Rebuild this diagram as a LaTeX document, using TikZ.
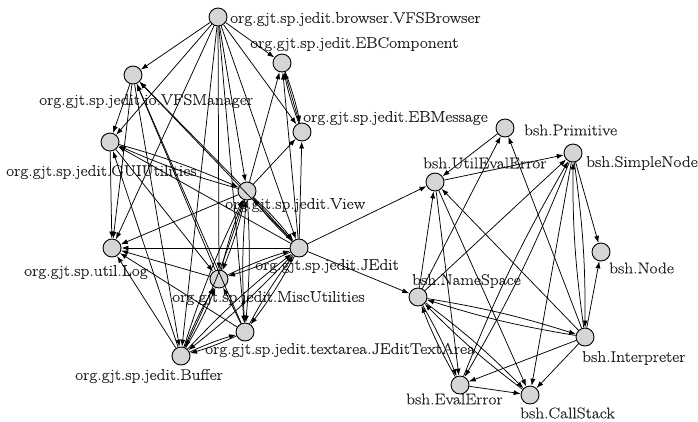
\documentclass[tikz,border=0pt]{standalone}
\usepackage{fontspec}
\newfontfamily\lblfont{Latin Modern Roman}[FakeStretch=1.12,FakeBold=0.4]
\usetikzlibrary{arrows.meta}
\begin{document}
\begin{tikzpicture}[x=1pt,y=-1pt,
  vtx/.style={circle,draw=black,line width=0.9pt,fill=gray!33,minimum size=18pt,inner sep=0pt},
  lbl/.style={anchor=west,inner sep=0pt,text=black!85,font=\lblfont\fontsize{15.5}{18}\selectfont},
  ed/.style={draw=black,line width=0.75pt,-{Latex[length=7pt,width=5pt]}},
  bl/.style={bend left=4}]
\useasboundingbox (0,0) rectangle (698,421);
% vertices
\node[vtx] (vb)   at (218,17) {};
\node[vtx] (ebc)  at (282,63) {};
\node[vtx] (vfm)  at (133,75) {};
\node[vtx] (ebm)  at (302,132) {};
\node[vtx] (gui)  at (110,142) {};
\node[vtx] (view) at (247,191) {};
\node[vtx] (jedit) at (299,248) {};
\node[vtx] (log)  at (112,248) {};
\node[vtx] (misc) at (219,279) {};
\node[vtx] (jta)  at (245,332) {};
\node[vtx] (buf)  at (181,356) {};
\node[vtx] (prim) at (505,128) {};
\node[vtx] (sn)   at (573,153) {};
\node[vtx] (uee)  at (435,182) {};
\node[vtx] (bnode) at (601,252) {};
\node[vtx] (ns)   at (418,297) {};
\node[vtx] (interp) at (585,337) {};
\node[vtx] (ee)   at (460,385) {};
\node[vtx] (cs)   at (530,395) {};
% labels
\node[lbl] (lvb)   at (230,19)  {org.gjt.sp.jedit.browser.VFSBrowser};
\node[lbl] (lebc)  at (250,44)  {org.gjt.sp.jedit.EBComponent};
\node[lbl] (lvfm)  at (39,101)  {org.gjt.sp.jedit.io.VFSManager};
\node[lbl] (lebm)  at (303,118) {org.gjt.sp.jedit.EBMessage};
\node[lbl] (lgui)  at (6,172)   {org.gjt.sp.jedit.GUIUtilities};
\node[lbl] (lview) at (225,205) {org.gjt.sp.jedit.View};
\node[lbl] (ljedit) at (255,266) {org.gjt.sp.jedit.JEdit};
\node[lbl] (llog)  at (24,272)  {org.gjt.sp.util.Log};
\node[lbl] (lmisc) at (172,298) {org.gjt.sp.jedit.MiscUtilities};
\node[lbl] (ljta)  at (205,350) {org.gjt.sp.jedit.textarea.JEditTextArea};
\node[lbl] (lbuf)  at (75,376)  {org.gjt.sp.jedit.Buffer};
\node[lbl] (lprim) at (524,130) {bsh.Primitive};
\node[lbl] (lsn)   at (586,163) {bsh.SimpleNode};
\node[lbl] (luee)  at (423,163) {bsh.UtilEvalError};
\node[lbl] (lbnode) at (609,268) {bsh.Node};
\node[lbl] (lns)   at (412,281) {bsh.NameSpace};
\node[lbl] (linterp) at (582,358) {bsh.Interpreter};
\node[lbl] (lee)   at (406,399) {bsh.EvalError};
\node[lbl] (lcs)   at (520,413) {bsh.CallStack};
% left cluster edges
\foreach \t in {vfm,gui,ebc,ebm,view,jedit,misc,buf,log,jta}
  \draw[ed] (vb) -- (\t);
\draw[ed] (view) -- (ebc);
\draw[ed] (view) -- (ebm);
\draw[ed] (jedit) -- (ebm);
\draw[ed] (jedit) -- (ebc);
\draw[ed] (ebm) to[bl] (ebc);
\draw[ed] (ebc) to[bl] (ebm);
\draw[ed] (ebm) -- (ebc);
\draw[ed] (view) -- (vfm);
\draw[ed] (jedit) -- (vfm);
\draw[ed] (jta) -- (vfm);
\draw[ed] (misc) -- (vfm);
\draw[ed] (vfm) -- (gui);
\draw[ed] (vfm) -- (log);
\draw[ed] (vfm) -- (buf);
\draw[ed] (gui) to[bl] (view);
\draw[ed] (view) to[bl] (gui);
\draw[ed] (jedit) -- (gui);
\draw[ed] (gui) -- (log);
\draw[ed] (gui) -- (misc);
\draw[ed] (buf) -- (gui);
\draw[ed] (view) to[bl] (jedit);
\draw[ed] (jedit) to[bl] (view);
\draw[ed] (view) -- (jedit);
\draw[ed] (view) -- (log);
\draw[ed] (view) to[bl] (misc);
\draw[ed] (misc) to[bl] (view);
\draw[ed] (view) to[bl] (buf);
\draw[ed] (buf) to[bl] (view);
\draw[ed] (view) to[bl] (jta);
\draw[ed] (jta) to[bl] (view);
\draw[ed] (jedit) -- (log);
\draw[ed] (jedit) to[bl] (misc);
\draw[ed] (misc) to[bl] (jedit);
\draw[ed] (jedit) to[bl] (buf);
\draw[ed] (buf) to[bl] (jedit);
\draw[ed] (jedit) to[bl] (jta);
\draw[ed] (jta) to[bl] (jedit);
\draw[ed] (misc) -- (log);
\draw[ed] (jta) -- (log);
\draw[ed] (buf) -- (log);
\draw[ed] (buf) to[bl] (misc);
\draw[ed] (buf) to[bend right=4] (misc);
\draw[ed] (jta) -- (misc);
\draw[ed] (buf) to[bl] (jta);
\draw[ed] (jta) to[bl] (buf);
% bridge
\draw[ed] (jedit) -- (uee);
\draw[ed] (jedit) -- (ns);
% right cluster edges
\draw[ed] (prim) -- (uee);
\draw[ed] (uee) -- (sn);
\draw[ed] (ns) -- (uee);
\draw[ed] (ns) -- (prim);
\draw[ed] (ns) -- (sn);
\draw[ed] (interp) -- (uee);
\draw[ed] (interp) -- (prim);
\draw[ed] (uee) -- (ee);
\draw[ed] (uee) -- (cs);
\draw[ed] (sn) -- (bnode);
\draw[ed] (interp) -- (bnode);
\draw[ed] (sn) to[bl] (interp);
\draw[ed] (interp) to[bl] (sn);
\draw[ed] (sn) to[bl] (ee);
\draw[ed] (ee) to[bl] (sn);
\draw[ed] (sn) -- (cs);
\draw[ed] (ns) to[bl] (interp);
\draw[ed] (interp) to[bl] (ns);
\draw[ed] (ns) to[bl] (ee);
\draw[ed] (ee) to[bl] (ns);
\draw[ed] (ns) to[bl] (cs);
\draw[ed] (cs) to[bl] (ns);
\draw[ed] (interp) -- (ee);
\draw[ed] (interp) -- (cs);
\draw[ed] (ee) -- (cs);
\end{tikzpicture}
\end{document}
